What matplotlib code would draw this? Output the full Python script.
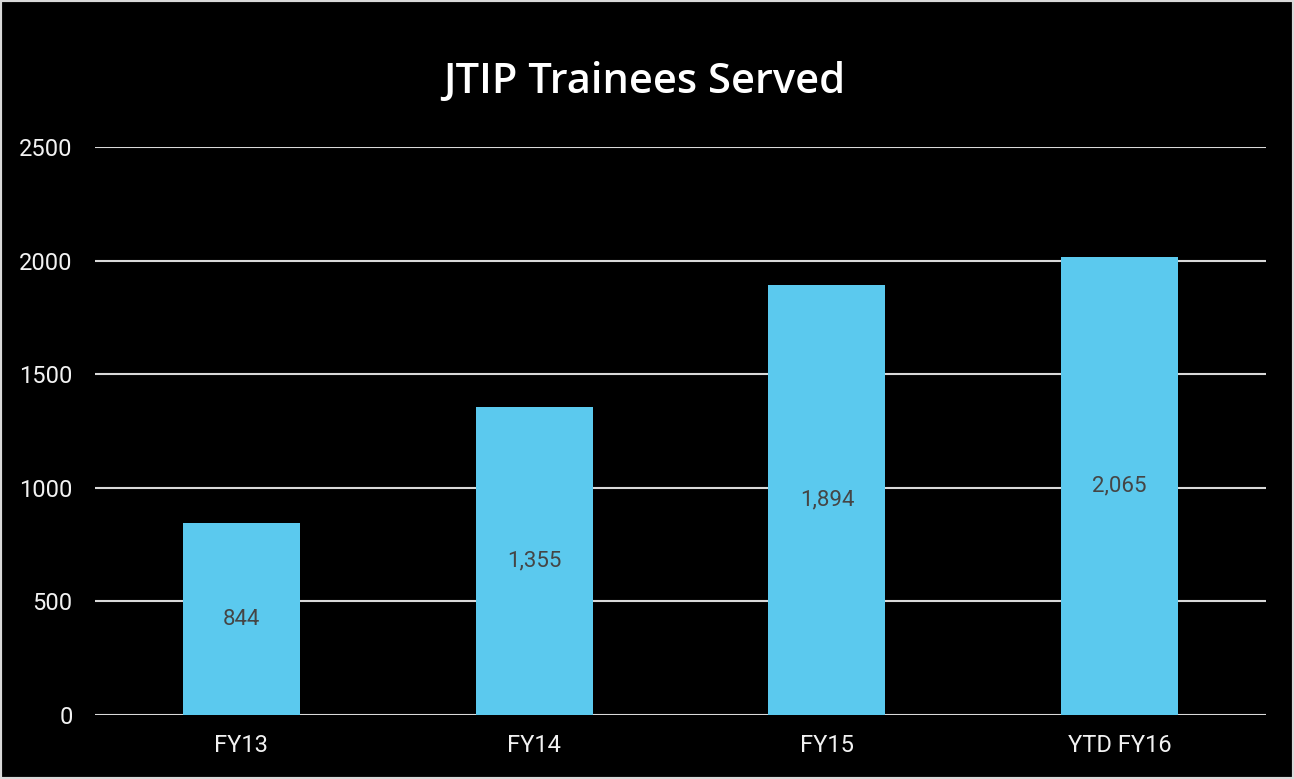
import matplotlib.pyplot as plt
from matplotlib.patches import Rectangle

# data
categories = ["FY13", "FY14", "FY15", "YTD FY16"]
bar_heights = [844, 1355, 1894, 2015]
bar_labels = ["844", "1,355", "1,894", "2,065"]
y_ticks = [0, 500, 1000, 1500, 2000, 2500]

BAR_COLOR = "#5BC9EE"
GRID_COLOR = "#d9d9d9"

fig = plt.figure(figsize=(12.94, 7.79), dpi=100, facecolor="black")
ax = fig.add_axes([0.0734, 0.0822, 0.905, 0.7291], facecolor="black")

x = range(len(categories))
ax.bar(x, bar_heights, width=0.4, color=BAR_COLOR, zorder=3)

for xi, h, lab in zip(x, bar_heights, bar_labels):
    ax.text(xi, h / 2, lab, ha="center", va="center", color="#454545",
            fontsize=16, family="Roboto", zorder=4)

ax.set_xlim(-0.5, 3.5)
ax.set_ylim(0, 2500)
ax.set_yticks(y_ticks)
ax.set_yticklabels([str(t) for t in y_ticks])
ax.set_xticks(list(x))
ax.set_xticklabels(categories)
ax.grid(axis="y", color=GRID_COLOR, linewidth=1.5, zorder=1)
ax.tick_params(axis="both", length=0, colors="#f2f2f2", labelsize=17)
ax.tick_params(axis="y", pad=16)
ax.tick_params(axis="x", pad=14)
for lbl in ax.get_xticklabels() + ax.get_yticklabels():
    lbl.set_family("Roboto")
for s in ax.spines.values():
    s.set_visible(False)

fig.text(0.498, 0.895, "JTIP Trainees Served", ha="center", va="center",
         color="white", fontsize=30, family="Open Sans", fontweight="semibold")

# thin gray frame round the chart
fig.patches.append(Rectangle((0, 0), 1, 1, transform=fig.transFigure,
                             fill=False, edgecolor="#d9d9d9", linewidth=3))

fig.savefig("out.png", dpi=100, facecolor="black")
